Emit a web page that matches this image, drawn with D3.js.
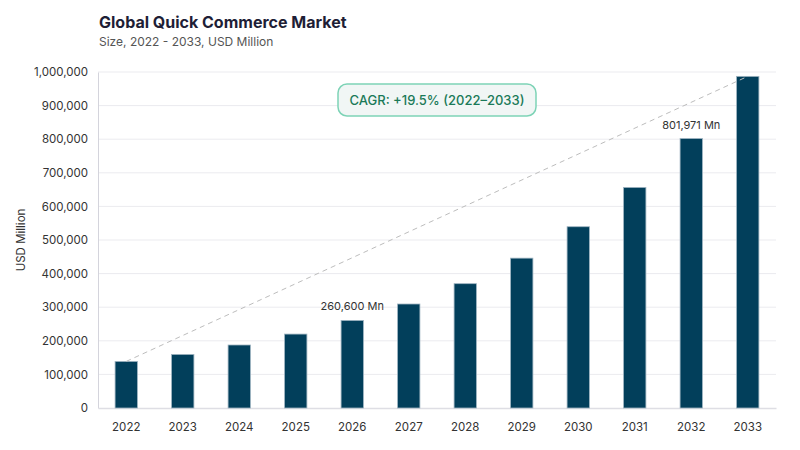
<html>
<head>
  <script src="https://d3js.org/d3.v7.min.js"></script>
  <style>
    body { margin: 0; background: #fff; }
    text { font-family: Inter, "Noto Sans", sans-serif; }
  </style>
</head>
<body>
  <script type="text/javascript">
    // data
    var years = ["2022","2023","2024","2025","2026","2027","2028","2029","2030","2031","2032","2033"];
    var marketSize = [138700, 159500, 187500, 220000, 260600, 309500, 370000, 446000, 539500, 656500, 801971, 987000];
    var yTicks = [0, 100000, 200000, 300000, 400000, 500000, 600000, 700000, 800000, 900000, 1000000];
    var labelled = ["2026", "2032"];
    var cagrText = "CAGR: +19.5% (2022\u20132033)";

    var W = 800, H = 450;
    var m = {top: 72, right: 24, bottom: 42, left: 98};

    var svg = d3.select("body").append("svg")
      .attr("width", W).attr("height", H);

    // title block
    svg.append("text").attr("x", 99).attr("y", 28)
      .style("font-size", "16px").style("font-weight", "700").style("fill", "#1e1e36")
      .text("Global Quick Commerce Market");
    svg.append("text").attr("x", 99).attr("y", 46)
      .style("font-size", "12px").style("fill", "#555")
      .text("Size, 2022 - 2033, USD Million");

    var x = d3.scaleBand().domain(years)
      .range([m.left, W - m.right])
      .paddingInner(0.605).paddingOuter(0.3025);
    var y = d3.scaleLinear().domain([0, 1000000]).range([H - m.bottom, m.top]);

    // gridlines
    svg.append("g").selectAll("line").data(yTicks.slice(1)).enter().append("line")
      .attr("x1", m.left).attr("x2", W - m.right)
      .attr("y1", function (d) { return y(d); }).attr("y2", function (d) { return y(d); })
      .style("stroke", "#ebebef").style("stroke-width", 1);

    // y axis
    var yAxis = svg.append("g").attr("transform", "translate(" + m.left + ",0)")
      .call(d3.axisLeft(y).tickValues(yTicks).tickFormat(d3.format(",")).tickSize(0).tickPadding(10));
    yAxis.select(".domain").style("stroke", "#d4d4dc");
    yAxis.selectAll("text").style("font-size", "11.5px").style("fill", "#333")
      .style("font-family", "Inter, sans-serif");

    // x axis
    var xAxis = svg.append("g").attr("transform", "translate(0," + (H - m.bottom) + ")")
      .call(d3.axisBottom(x).tickSize(0).tickPadding(15));
    xAxis.select(".domain").style("stroke", "#dedee4").style("stroke-width", 1.5);
    xAxis.selectAll("text").style("font-size", "11.5px").style("fill", "#333")
      .style("font-family", "Inter, sans-serif");

    svg.append("text")
      .attr("transform", "translate(25," + ((m.top + H - m.bottom) / 2) + ") rotate(-90)")
      .attr("text-anchor", "middle")
      .style("font-size", "11.5px").style("fill", "#333")
      .text("USD Million");

    // bars
    svg.append("g").selectAll("rect").data(years).enter().append("rect")
      .attr("x", function (d) { return x(d); })
      .attr("width", x.bandwidth())
      .attr("y", function (d, i) { return y(marketSize[i]); })
      .attr("height", function (d, i) { return y(0) - y(marketSize[i]); })
      .style("fill", "#023f5b")
      .style("stroke", "#9fb4c1").style("stroke-width", 0.8);

    // dashed trend line first bar -> last bar
    var n = years.length - 1;
    svg.append("line")
      .attr("x1", x(years[0]) + x.bandwidth() / 2).attr("y1", y(marketSize[0]))
      .attr("x2", x(years[n]) + x.bandwidth() / 2).attr("y2", y(marketSize[n]))
      .style("stroke", "#bdbdbd").style("stroke-width", 1)
      .style("stroke-dasharray", "5,4");

    // value labels
    labelled.forEach(function (yr) {
      var i = years.indexOf(yr);
      svg.append("text")
        .attr("x", x(yr) + x.bandwidth() / 2)
        .attr("y", y(marketSize[i]) - 10)
        .attr("text-anchor", "middle")
        .style("font-size", "11px").style("fill", "#333")
        .text(d3.format(",")(marketSize[i]) + " Mn");
    });

    // CAGR badge
    svg.append("rect")
      .attr("x", 338).attr("y", 84).attr("width", 198).attr("height", 32)
      .attr("rx", 9).attr("ry", 9)
      .style("fill", "#f1f6f5").style("stroke", "#7dd3b6").style("stroke-width", 1.5);
    svg.append("text").attr("x", 437).attr("y", 105)
      .attr("text-anchor", "middle")
      .style("font-size", "13px").style("font-weight", "500").style("fill", "#1a7a58")
      .text(cagrText);
  </script>
</body>
</html>
